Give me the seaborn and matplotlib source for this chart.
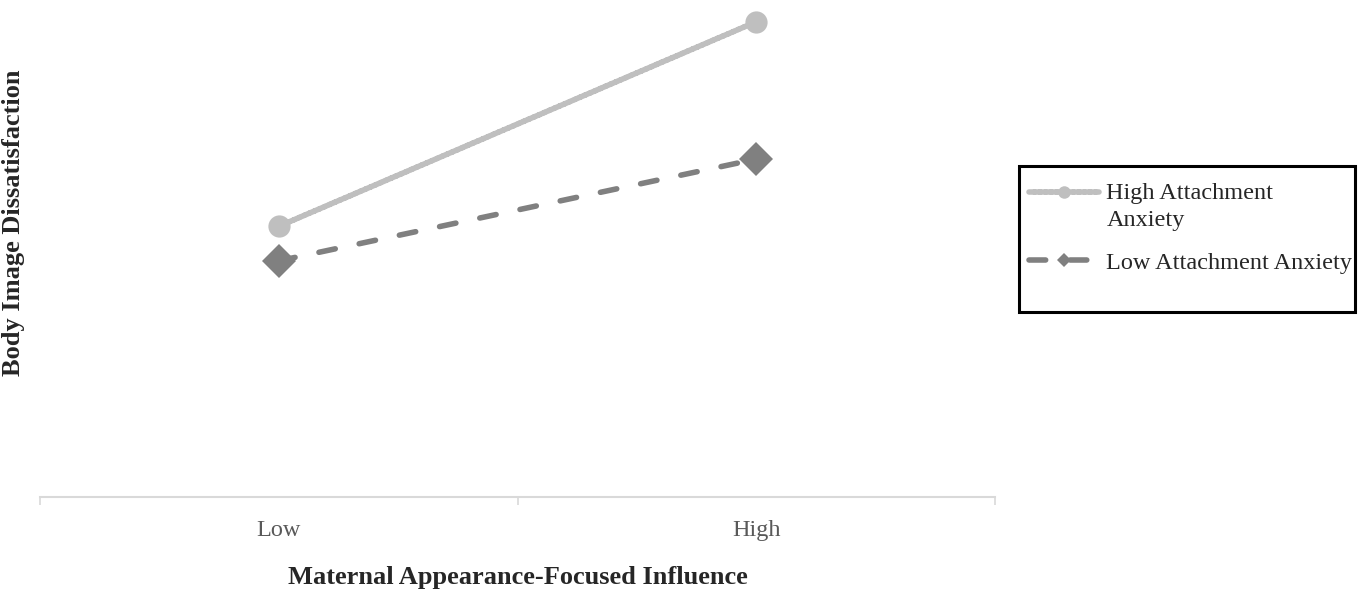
import pandas as pd
import seaborn as sns
import matplotlib.pyplot as plt
from matplotlib.ticker import FixedLocator
from matplotlib.patches import Rectangle
from matplotlib.legend_handler import HandlerLine2D

influence = ["Low", "High"]
high_anxiety = [2.74, 4.81]
low_anxiety = [2.39, 3.42]
groups = ["High Attachment\nAnxiety", "Low Attachment Anxiety"]

df = pd.DataFrame({
    "x": [0, 1, 0, 1],
    "y": high_anxiety + low_anxiety,
    "group": [groups[0]] * 2 + [groups[1]] * 2,
})


class RaisedLine(HandlerLine2D):
    # legend handle lifted so it sits on the first line of a wrapped label
    def __init__(self, dy, **kw):
        super().__init__(**kw)
        self.dy = dy

    def create_artists(self, legend, orig_handle, xdescent, ydescent, width, height, fontsize, trans):
        return super().create_artists(legend, orig_handle, xdescent, ydescent - self.dy * fontsize,
                                      width, height, fontsize, trans)


sns.set_style("white")
plt.rcParams["font.family"] = ["Liberation Serif", "DejaVu Serif"]

W, H = 1365, 591
fig = plt.figure(figsize=(W / 100, H / 100), dpi=100)
ax = fig.add_axes([40 / W, 1 - 497 / H, 955 / W, 494 / H])

sns.lineplot(data=df, x="x", y="y", hue="group", style="group",
             palette=["#BFBFBF", "#808080"], markers=["o", "D"],
             dashes=[(1, 0), (3, 4.4)], linewidth=4, markersize=16,
             markeredgewidth=0, ax=ax, legend=True)

for ln in ax.lines:
    ln.set_dash_capstyle("round")
    ln.set_solid_capstyle("round")
    if ln.get_marker() == "D":
        ln.set_markersize(17)

ax.set_xlim(-0.5, 1.5)
ax.set_ylim(0, 5)
ax.set_xticks([0, 1])
ax.set_xticklabels(influence, fontsize=17.5, color="#595959")
ax.xaxis.set_minor_locator(FixedLocator([-0.5, 0.5, 1.5]))
ax.tick_params(axis="x", which="major", length=0, pad=16.5)
ax.tick_params(axis="x", which="minor", length=6, width=1.2, color="#D9D9D9", bottom=True)
ax.set_yticks([])
for s in ["top", "right", "left"]:
    ax.spines[s].set_visible(False)
ax.spines["bottom"].set_color("#D9D9D9")
ax.spines["bottom"].set_linewidth(1.5)

ax.set_xlabel("Maternal Appearance-Focused Influence", fontsize=19, fontweight="bold", labelpad=18)
ax.set_ylabel("Body Image Dissatisfaction", fontsize=19, fontweight="bold")
ax.yaxis.label.set_va("center")
ax.yaxis.set_label_coords(-26 / 955, (497 - 223) / 494)

handles, labels = ax.get_legend_handles_labels()
for h in handles:
    h.set_markersize(9 if h.get_marker() == "o" else 7)
    h.set_markeredgewidth(0)
    h.set_dash_capstyle("round")
    h.set_solid_capstyle("round")
leg = ax.legend(handles, labels, loc="upper left", bbox_to_anchor=(1019 / W, 1 - 173 / H),
                bbox_transform=fig.transFigure, fontsize=17.5, frameon=False,
                handlelength=2.9, borderpad=0.4, labelspacing=0.85, handletextpad=0.3,
                borderaxespad=0, handler_map={handles[0]: RaisedLine(1.15)})
for t in leg.get_texts():
    t.set_linespacing(1.4)

fig.add_artist(Rectangle((1019 / W, 1 - 312 / H), 336 / W, 146 / H, transform=fig.transFigure,
                         fill=False, edgecolor="black", linewidth=2.2))

fig.savefig("out.png", dpi=100)
